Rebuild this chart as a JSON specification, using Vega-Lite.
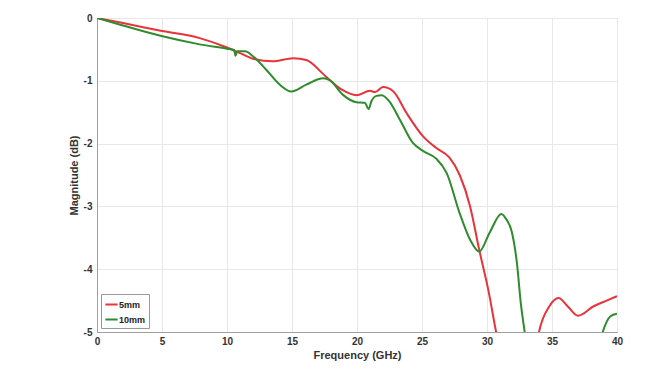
{
  "$schema": "https://vega.github.io/schema/vega-lite/v6.json",
  "width": 520,
  "height": 314,
  "autosize": {"type": "none"},
  "padding": {"left": 97, "top": 18, "right": 45, "bottom": 38},
  "background": "white",
  "config": {
    "font": "Liberation Sans",
    "view": {"stroke": "#a0a0a0", "strokeWidth": 1},
    "axis": {
      "labelFont": "Liberation Sans",
      "labelFontWeight": "bold",
      "labelFontSize": 10,
      "labelColor": "#333333",
      "titleFont": "Liberation Sans",
      "titleFontWeight": "bold",
      "titleFontSize": 11,
      "titleColor": "#333333",
      "domainColor": "#a0a0a0",
      "gridColor": "#e8e8e8",
      "ticks": false
    }
  },
  "data": {
    "values": [
      {"series": "5mm", "f": 0, "mag": 0},
      {"series": "5mm", "f": 2, "mag": -0.08},
      {"series": "5mm", "f": 4.8, "mag": -0.2},
      {"series": "5mm", "f": 7.9, "mag": -0.32},
      {"series": "5mm", "f": 10, "mag": -0.47},
      {"series": "5mm", "f": 11, "mag": -0.56},
      {"series": "5mm", "f": 12, "mag": -0.65},
      {"series": "5mm", "f": 13.5, "mag": -0.69},
      {"series": "5mm", "f": 15.1, "mag": -0.64},
      {"series": "5mm", "f": 16.1, "mag": -0.67},
      {"series": "5mm", "f": 17.6, "mag": -0.93},
      {"series": "5mm", "f": 18.9, "mag": -1.15},
      {"series": "5mm", "f": 19.95, "mag": -1.23},
      {"series": "5mm", "f": 21.0, "mag": -1.16},
      {"series": "5mm", "f": 21.4, "mag": -1.18},
      {"series": "5mm", "f": 22.0, "mag": -1.10},
      {"series": "5mm", "f": 22.8, "mag": -1.17},
      {"series": "5mm", "f": 23.8, "mag": -1.51},
      {"series": "5mm", "f": 25.1, "mag": -1.89},
      {"series": "5mm", "f": 26.1, "mag": -2.07},
      {"series": "5mm", "f": 27.1, "mag": -2.22},
      {"series": "5mm", "f": 27.9, "mag": -2.5},
      {"series": "5mm", "f": 28.7, "mag": -3.0},
      {"series": "5mm", "f": 29.4, "mag": -3.69},
      {"series": "5mm", "f": 30.1, "mag": -4.33},
      {"series": "5mm", "f": 30.7, "mag": -5.0},
      {"series": "5mm", "f": 31.5, "mag": -5.8},
      {"series": "5mm", "f": 32.5, "mag": -6.2},
      {"series": "5mm", "f": 33.4, "mag": -5.8},
      {"series": "5mm", "f": 34.0, "mag": -5.0},
      {"series": "5mm", "f": 34.8, "mag": -4.59},
      {"series": "5mm", "f": 35.5, "mag": -4.46},
      {"series": "5mm", "f": 36.2, "mag": -4.59},
      {"series": "5mm", "f": 37.0, "mag": -4.74},
      {"series": "5mm", "f": 38.2, "mag": -4.59},
      {"series": "5mm", "f": 39.2, "mag": -4.5},
      {"series": "5mm", "f": 40, "mag": -4.43},
      {"series": "10mm", "f": 0, "mag": 0},
      {"series": "10mm", "f": 2, "mag": -0.12},
      {"series": "10mm", "f": 4.8, "mag": -0.28},
      {"series": "10mm", "f": 7.9, "mag": -0.42},
      {"series": "10mm", "f": 10, "mag": -0.49},
      {"series": "10mm", "f": 10.55, "mag": -0.51},
      {"series": "10mm", "f": 10.65, "mag": -0.6},
      {"series": "10mm", "f": 10.8, "mag": -0.53},
      {"series": "10mm", "f": 11.4, "mag": -0.53},
      {"series": "10mm", "f": 12.0, "mag": -0.61},
      {"series": "10mm", "f": 13.0, "mag": -0.82},
      {"series": "10mm", "f": 14.05, "mag": -1.06},
      {"series": "10mm", "f": 14.95, "mag": -1.17},
      {"series": "10mm", "f": 16.1, "mag": -1.06},
      {"series": "10mm", "f": 17.4, "mag": -0.96},
      {"series": "10mm", "f": 17.9, "mag": -0.99},
      {"series": "10mm", "f": 18.9, "mag": -1.22},
      {"series": "10mm", "f": 19.95, "mag": -1.34},
      {"series": "10mm", "f": 20.6, "mag": -1.35},
      {"series": "10mm", "f": 20.9, "mag": -1.45},
      {"series": "10mm", "f": 21.1, "mag": -1.33},
      {"series": "10mm", "f": 21.5, "mag": -1.24},
      {"series": "10mm", "f": 21.9, "mag": -1.23},
      {"series": "10mm", "f": 22.5, "mag": -1.33},
      {"series": "10mm", "f": 23.3, "mag": -1.62},
      {"series": "10mm", "f": 24.3, "mag": -1.99},
      {"series": "10mm", "f": 25.1, "mag": -2.12},
      {"series": "10mm", "f": 26.1, "mag": -2.24},
      {"series": "10mm", "f": 26.9, "mag": -2.47},
      {"series": "10mm", "f": 27.9, "mag": -3.11},
      {"series": "10mm", "f": 28.7, "mag": -3.53},
      {"series": "10mm", "f": 29.4, "mag": -3.72},
      {"series": "10mm", "f": 30.2, "mag": -3.42},
      {"series": "10mm", "f": 31.1, "mag": -3.12},
      {"series": "10mm", "f": 31.5, "mag": -3.21},
      {"series": "10mm", "f": 31.9, "mag": -3.4},
      {"series": "10mm", "f": 32.3, "mag": -3.9},
      {"series": "10mm", "f": 32.6, "mag": -4.54},
      {"series": "10mm", "f": 32.9, "mag": -5.0},
      {"series": "10mm", "f": 33.5, "mag": -5.8},
      {"series": "10mm", "f": 35, "mag": -6.3},
      {"series": "10mm", "f": 37, "mag": -6.0},
      {"series": "10mm", "f": 38.4, "mag": -5.4},
      {"series": "10mm", "f": 38.9, "mag": -5.0},
      {"series": "10mm", "f": 39.5, "mag": -4.75},
      {"series": "10mm", "f": 40, "mag": -4.71}
    ]
  },
  "mark": {"type": "line", "clip": true, "strokeWidth": 2, "interpolate": "monotone"},
  "encoding": {
    "x": {
      "field": "f",
      "type": "quantitative",
      "scale": {"domain": [0, 40], "nice": false},
      "axis": {"title": "Frequency (GHz)", "values": [0, 5, 10, 15, 20, 25, 30, 35, 40], "labelPadding": 4, "titlePadding": 3, "labelFlush": false}
    },
    "y": {
      "field": "mag",
      "type": "quantitative",
      "scale": {"domain": [-5, 0], "nice": false, "zero": false},
      "axis": {"title": "Magnitude (dB)", "values": [-5, -4, -3, -2, -1, 0], "labelExpr": "'' + datum.value", "labelPadding": 5, "titlePadding": 4, "labelFlush": false}
    },
    "color": {
      "field": "series",
      "type": "nominal",
      "scale": {"domain": ["5mm", "10mm"], "range": ["#e8333a", "#2e8b2e"]},
      "legend": {
        "title": null,
        "orient": "bottom-left",
        "offset": 4,
        "symbolType": "stroke",
        "symbolStrokeWidth": 2,
        "symbolSize": 150,
        "labelFont": "Liberation Sans",
        "labelFontWeight": "bold",
        "labelFontSize": 9,
        "labelColor": "#222222",
        "labelOffset": 0,
        "rowPadding": 2,
        "padding": 3,
        "strokeColor": "#999999",
        "fillColor": "white"
      }
    }
  }
}
